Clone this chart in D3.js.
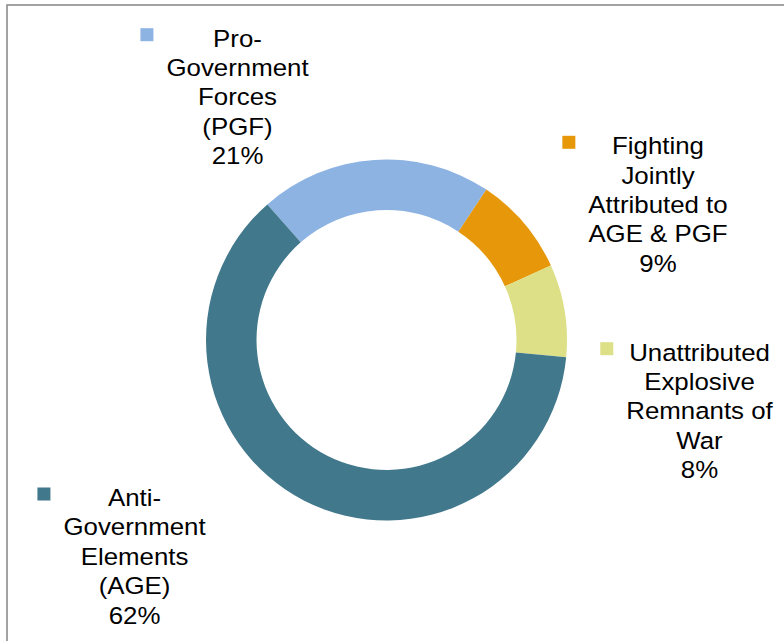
<!DOCTYPE html>
<html>
<head>
<meta charset="utf-8">
<script src="https://cdn.jsdelivr.net/npm/d3@7"></script>
<style>
  body { margin: 0; background: #fff; }
  svg text { font-family: "Liberation Sans", Arial, sans-serif; fill: #000; }
</style>
</head>
<body>
<div id="chart"></div>
<script>
// slices, clockwise from the top-left edge of the blue slice
var categories = ["PGF", "Fighting", "Unattributed", "AGE"];
var values = [20.8, 8.9, 8.3, 62.0];
var labelLines = [
  ["Pro-", "Government", "Forces", "(PGF)"],
  ["Fighting", "Jointly", "Attributed to", "AGE & PGF"],
  ["Unattributed", "Explosive", "Remnants of", "War"],
  ["Anti-", "Government", "Elements", "(AGE)"]
];
var colors = ["#8db3e2", "#e6980a", "#dde087", "#41788b"];

var width = 784, height = 641;
var cx = 386.5, cy = 340, outerR = 180.5, innerR = 130;

var svg = d3.select("#chart")
    .append("svg")
    .attr("width", width)
    .attr("height", height);

// chart frame (runs off the right and bottom edges)
svg.append("rect")
    .attr("x", 7)
    .attr("y", 5)
    .attr("width", 900)
    .attr("height", 900)
    .attr("fill", "none")
    .attr("stroke", "#858585")
    .attr("stroke-width", 1.5);

var pie = d3.pie()
    .sort(null)
    .startAngle(-41.3 * Math.PI / 180)
    .endAngle(-41.3 * Math.PI / 180 + 2 * Math.PI);

var arc = d3.arc()
    .innerRadius(innerR)
    .outerRadius(outerR);

var data = values.map(function(v, i) { return {name: categories[i], value: v, i: i}; });

svg.append("g")
    .attr("transform", "translate(" + cx + "," + cy + ")")
  .selectAll("path")
    .data(pie.value(function(d) { return d.value; })(data))
    .enter()
    .append("path")
    .attr("d", arc)
    .attr("fill", function(d) { return colors[d.data.i]; });

// label placement: centre x and first baseline of each block
var labelPos = [
  {x: 237.5, y: 46.7},
  {x: 658, y: 154.3},
  {x: 699.5, y: 360.7},
  {x: 134.5, y: 506}
];
var lineH = 29.4, fontSize = 23.5, stretch = 1.1, keySize = 13;

var fmt = d3.format(".0f");

labelLines.forEach(function(lines, i) {
  var all = lines.concat([fmt(values[i]) + "%"]);
  var g = svg.append("g")
      .attr("transform", "translate(" + labelPos[i].x + "," + labelPos[i].y + ")");

  var t = g.append("g")
      .attr("transform", "scale(" + stretch + ",1)");

  var maxW = 0;
  all.forEach(function(line, k) {
    var txt = t.append("text")
        .attr("x", 0)
        .attr("y", k * lineH)
        .attr("text-anchor", "middle")
        .style("font-size", fontSize + "px")
        .text(line);
    maxW = Math.max(maxW, txt.node().getComputedTextLength() * stretch);
  });

  g.append("rect")
      .attr("x", -maxW / 2 - 13 - keySize)
      .attr("y", -18.5)
      .attr("width", keySize)
      .attr("height", keySize)
      .attr("fill", colors[i]);
});
</script>
</body>
</html>
